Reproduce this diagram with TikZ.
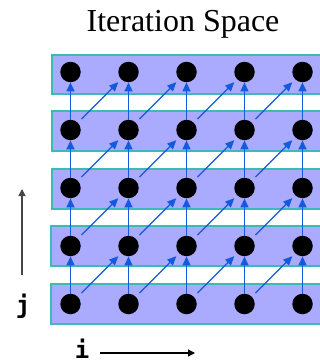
\documentclass[tikz,border=0pt]{standalone}
\usepackage{fontspec}
\setmainfont{Liberation Serif}
\newfontfamily\monob{DejaVu Sans Mono}
\usetikzlibrary{arrows.meta}
\definecolor{rowfill}{RGB}{170,170,255}
\definecolor{rowedge}{RGB}{60,185,185}
\definecolor{dep}{RGB}{20,90,220}
\definecolor{axis}{RGB}{70,70,70}
\tikzset{
  rowbox/.style={fill=rowfill,draw=rowedge,line width=1.2pt},
  dot/.style={circle,fill=black,inner sep=0pt,minimum size=20.5pt},
  vdep/.style={draw=dep,line width=1.5pt,-{Triangle[length=9pt,width=8pt]}},
  ddep/.style={draw=dep,line width=1.1pt,-{Triangle[length=9pt,width=8pt]},shorten <=5pt,shorten >=4pt},
  axarrow/.style={line width=1.3pt,-{Triangle[length=7pt,width=7pt]}},
  lbl/.style={font=\monob\bfseries\fontsize{24}{28}\selectfont,inner sep=0pt}
}
\begin{document}
\begin{tikzpicture}[x=1pt,y=-1pt]
\useasboundingbox (0,0) rectangle (320,364);
\clip (0,0) rectangle (320,364);
\node[font=\fontsize{32}{38}\selectfont,inner sep=0pt] (title) at (183,24) {Iteration Space};
\path[rowbox] (52,55) rectangle (330,94);
\path[rowbox] (52,111) rectangle (330,151);
\path[rowbox] (52,169) rectangle (330,209);
\path[rowbox] (51,226) rectangle (330,266);
\path[rowbox] (51,284) rectangle (330,324);
\foreach \i in {0,...,4}{
  \foreach \j in {0,...,4}{
    \node[dot] (d-\i-\j) at ({70.5+58*\i},{304-58*\j}) {};
  }
}
\foreach \i in {0,...,4}{
  \foreach \j [evaluate=\j as \jn using int(\j+1)] in {0,...,3}{
    \draw[vdep] (d-\i-\j) -- (d-\i-\jn);
  }
}
\foreach \i [evaluate=\i as \in using int(\i+1)] in {0,...,3}{
  \foreach \j [evaluate=\j as \jn using int(\j+1)] in {0,...,3}{
    \draw[ddep] (d-\i-\j) -- (d-\in-\jn);
  }
}
\coordinate (ja) at (22,275);
\coordinate (jb) at (22,189);
\draw[axarrow,axis] (ja) -- (jb);
\coordinate (ia) at (100,353);
\coordinate (ib) at (195,353);
\draw[axarrow,black] (ia) -- (ib);
\node[lbl] (jlabel) at (23,306) {j};
\node[lbl] (ilabel) at (82,349) {i};
\end{tikzpicture}
\end{document}
